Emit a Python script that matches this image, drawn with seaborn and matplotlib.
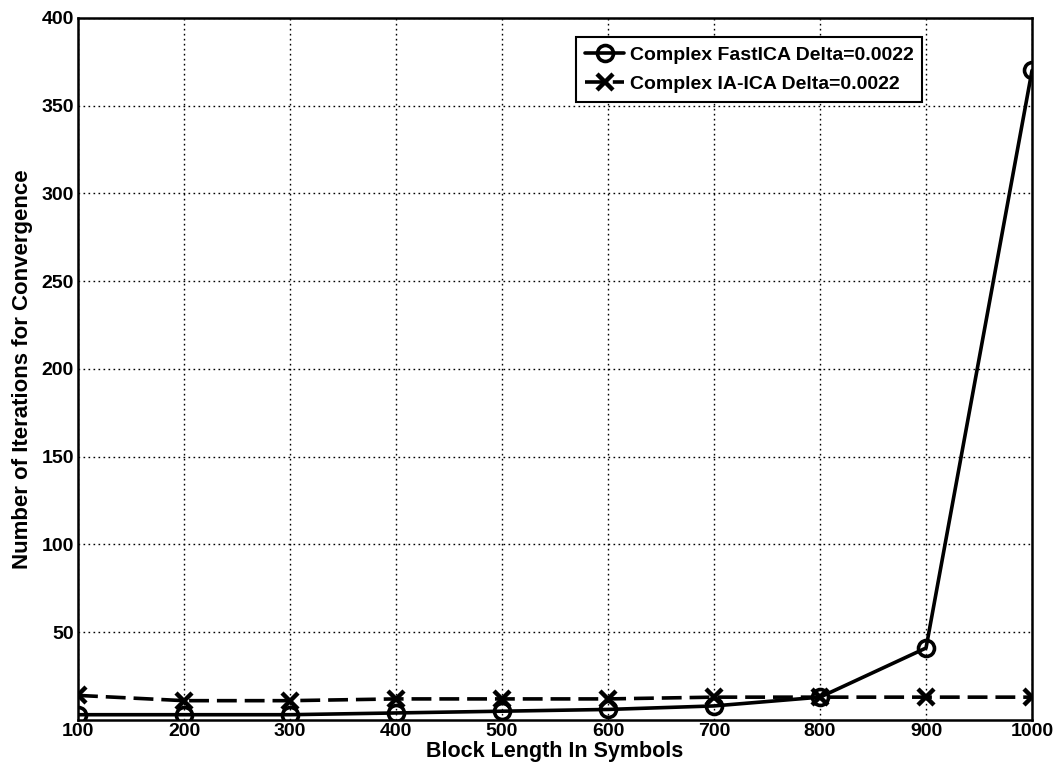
import matplotlib
matplotlib.use("Agg")
import matplotlib.pyplot as plt
import seaborn as sns
import pandas as pd

block_lengths = [100, 200, 300, 400, 500, 600, 700, 800, 900, 1000]
fastica_iters = [3, 3, 3, 4, 5, 6, 8, 13, 41, 370]
iaica_iters = [14, 11, 11, 12, 12, 12, 13, 13, 13, 13]
series_names = ["Complex FastICA Delta=0.0022", "Complex IA-ICA Delta=0.0022"]
x_ticks = [100, 200, 300, 400, 500, 600, 700, 800, 900, 1000]
y_ticks = [50, 100, 150, 200, 250, 300, 350, 400]

fast_df = pd.DataFrame({"block": block_lengths, "iters": fastica_iters})
ia_df = pd.DataFrame({"block": block_lengths, "iters": iaica_iters})

sns.set_style("white")
plt.rcParams["font.family"] = ["Liberation Sans", "DejaVu Sans"]
plt.rcParams["font.weight"] = "bold"
plt.rcParams["text.color"] = "black"
plt.rcParams["axes.labelcolor"] = "black"
plt.rcParams["xtick.color"] = "black"
plt.rcParams["ytick.color"] = "black"

fig = plt.figure(figsize=(10.6, 7.75), dpi=100)
ax = fig.add_axes([0.0736, 0.071, 0.9, 0.906])

sns.lineplot(
    data=fast_df, x="block", y="iters", ax=ax, label=series_names[0],
    color="black", linewidth=2.6, marker="o", markersize=11.5,
    markerfacecolor="none", markeredgecolor="black", markeredgewidth=2.6,
)
sns.lineplot(
    data=ia_df, x="block", y="iters", ax=ax, label=series_names[1],
    color="black", linewidth=2.6, linestyle=(0, (5.5, 2.2)), marker="x",
    markersize=11, markeredgecolor="black", markeredgewidth=3.2,
)

ax.set_xlim(100, 1000)
ax.set_ylim(0, 400)
ax.set_xticks(x_ticks)
ax.set_yticks(y_ticks)
ax.grid(True, color="black", linestyle=(0, (1.2, 2.4)), linewidth=1.0)
ax.tick_params(direction="in", length=6, width=1.2, labelsize=14, colors="black", pad=3)
ax.tick_params(axis="x", pad=2)
for lab in ax.get_xticklabels() + ax.get_yticklabels():
    lab.set_fontweight("bold")
for sp in ax.spines.values():
    sp.set_color("black")
    sp.set_linewidth(1.8)

ax.set_xlabel("Block Length In Symbols", fontsize=15.5, fontweight="bold",
              color="black", labelpad=1)
ax.set_ylabel("Number of Iterations for Convergence", fontsize=16, fontweight="bold",
              color="black", labelpad=6)

leg = ax.legend(loc="upper right", bbox_to_anchor=(0.885, 0.972), borderaxespad=0,
                frameon=True, fancybox=False, edgecolor="black", framealpha=1,
                prop={"size": 14, "weight": "bold"}, handlelength=2.0,
                handletextpad=0.3, borderpad=0.45, labelspacing=0.6)
leg.get_frame().set_linewidth(1.5)
for txt in leg.get_texts():
    txt.set_color("black")

fig.savefig("out.png", dpi=100)
